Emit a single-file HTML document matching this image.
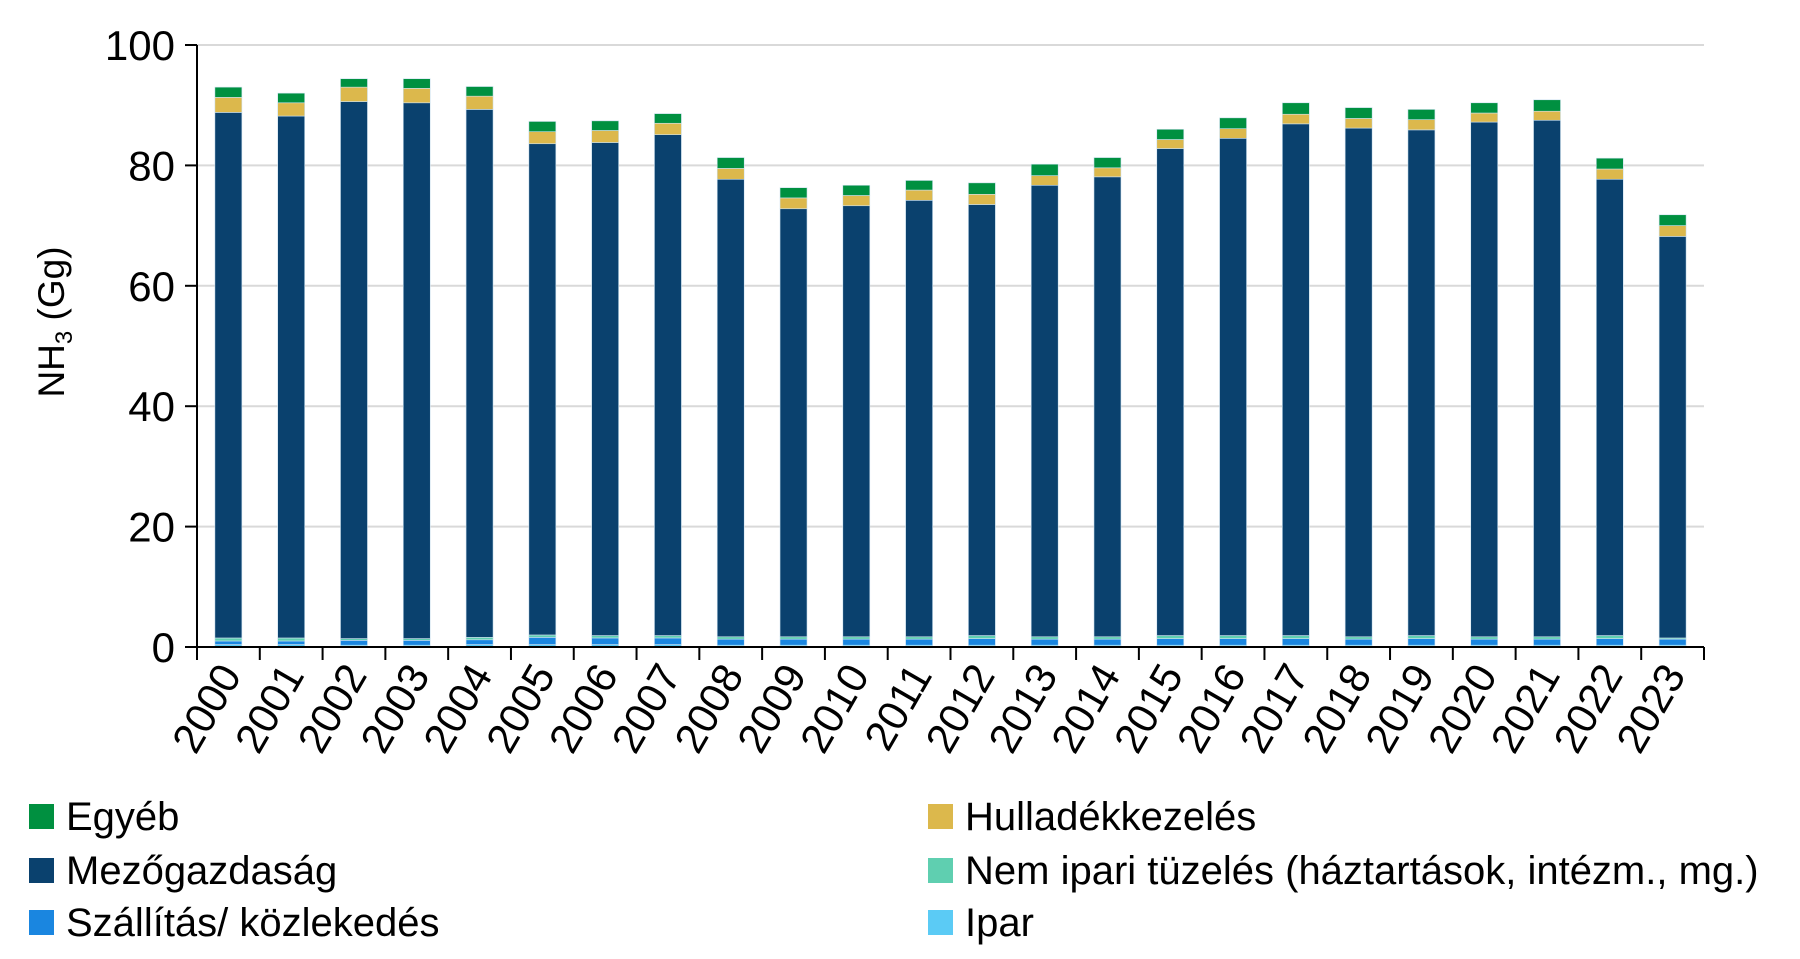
<!DOCTYPE html>
<html><head><meta charset="utf-8">
<style>
body{margin:0;background:#fff;width:1800px;height:954px;overflow:hidden;font-family:"Liberation Sans",sans-serif}
</style></head>
<body>
<svg id="chart" width="1800" height="954" xmlns="http://www.w3.org/2000/svg" font-family="Liberation Sans, sans-serif">
<g id="grid"></g>
<g id="bars"></g>
<g id="axes"></g>
<text transform="translate(64,322) rotate(-90)" text-anchor="middle" font-size="37" fill="#000">NH<tspan font-size="24" dy="8">3</tspan><tspan dy="-8"> (Gg)</tspan></text>
<g id="legend"></g>
</svg>
<script>
const years=["2000","2001","2002","2003","2004","2005","2006","2007","2008","2009","2010","2011","2012","2013","2014","2015","2016","2017","2018","2019","2020","2021","2022","2023"];
const ipar=[0.4,0.4,0.3,0.3,0.4,0.4,0.4,0.4,0.3,0.3,0.3,0.3,0.3,0.3,0.3,0.3,0.3,0.3,0.3,0.3,0.3,0.3,0.3,0.3];
const szallitas=[0.6,0.6,0.8,0.8,0.8,1.2,1.1,1.1,1.0,1.0,1.0,1.0,1.1,1.0,1.0,1.1,1.1,1.1,1.0,1.1,1.0,1.0,1.1,1.0];
const nemIpari=[0.5,0.5,0.3,0.3,0.4,0.4,0.4,0.4,0.4,0.4,0.4,0.4,0.5,0.4,0.4,0.5,0.5,0.5,0.4,0.5,0.4,0.4,0.5,0.2];
const mezogazdasag=[87.3,86.7,89.2,89.0,87.7,81.6,81.9,83.2,76.0,71.1,71.6,72.5,71.6,75.0,76.4,80.9,82.6,85.0,84.5,84.0,85.5,85.8,75.8,66.7];
const hulladek=[2.5,2.2,2.4,2.4,2.2,2.0,2.0,1.9,1.8,1.8,1.7,1.7,1.7,1.6,1.5,1.5,1.6,1.6,1.6,1.7,1.5,1.5,1.7,1.8];
const egyeb=[1.7,1.6,1.4,1.6,1.6,1.7,1.6,1.6,1.8,1.7,1.7,1.6,1.9,1.9,1.7,1.7,1.8,1.9,1.8,1.7,1.7,1.9,1.8,1.8];
const yTicks=[0,20,40,60,80,100];
const seriesNames=["Egyéb","Hulladékkezelés","Mezőgazdaság","Nem ipari tüzelés (háztartások, intézm., mg.)","Szállítás/ közlekedés","Ipar"];

const NS="http://www.w3.org/2000/svg";
const X0=197,X1=1704,Y0=647,Y1=45,YMAX=100;
const band=(X1-X0)/years.length, barW=27;
const y=v=>Y0-(v/YMAX)*(Y0-Y1);
const xc=i=>X0+band*(i+0.5);
function mk(tag,attrs,parent){const e=document.createElementNS(NS,tag);for(const k in attrs)e.setAttribute(k,attrs[k]);parent.appendChild(e);return e;}
const grid=document.getElementById('grid'),bars=document.getElementById('bars'),axes=document.getElementById('axes'),legend=document.getElementById('legend');
yTicks.forEach(t=>{
  if(t>0){const l=mk('line',{x1:X0,x2:X1,y1:y(t),y2:y(t),stroke:'#d9d9d9','stroke-width':2},grid);
  
  }
  const tk=mk('line',{x1:X0-12,x2:X0,y1:y(t),y2:y(t),stroke:'#000','stroke-width':2},axes);
  
  
  const tx=mk('text',{x:X0-22,y:y(t)+15,'text-anchor':'end','font-size':42,fill:'#000'},axes);
  tx.textContent=t;
  
  
});
const series=[[ipar,'#5bcbf5','ipar'],[szallitas,'#1a86e0','szallitas'],[nemIpari,'#5fcfb0','nem-ipari'],[mezogazdasag,'#0a416e','mezogazdasag'],[hulladek,'#dcb84c','hulladek'],[egyeb,'#009040','egyeb']];
years.forEach((yr,i)=>{
  let acc=0;
  series.forEach(([arr,col,nm])=>{
    const v=arr[i];
    const r=mk('rect',{x:xc(i)-barW/2,y:y(acc+v),width:barW,height:y(acc)-y(acc+v),fill:col,stroke:'#cfe3f0','stroke-width':0.6},bars);
    
    
    acc+=v;
  });
  const tk=mk('line',{x1:X0+band*i,x2:X0+band*i,y1:Y0,y2:Y0+13,stroke:'#000','stroke-width':2},axes);
  
  
  const tx=mk('text',{x:xc(i)+14,y:Y0+28,'text-anchor':'end','font-size':42,fill:'#000',transform:`rotate(-60 ${xc(i)+14} ${Y0+28})`},axes);
  tx.textContent=yr;
  
  
});
const tkEnd=mk('line',{x1:X1,x2:X1,y1:Y0,y2:Y0+13,stroke:'#000','stroke-width':2},axes);


const ya=mk('line',{x1:X0,x2:X0,y1:Y1,y2:Y0,stroke:'#000','stroke-width':2},axes);


const xa=mk('line',{x1:X0-12,x2:X1,y1:Y0,y2:Y0,stroke:'#000','stroke-width':2},axes);


const legCols=['#009040','#dcb84c','#0a416e','#5fcfb0','#1a86e0','#5bcbf5'];
seriesNames.forEach((n,k)=>{
  const col=k%2, row=Math.floor(k/2);
  const lx=col===0?29:928, ly=[816,870,922][row];
  const g=mk('g',{},legend);
  
  
  mk('rect',{x:lx,y:ly-12,width:25,height:25,fill:legCols[k]},g);
  const t=mk('text',{x:lx+37,y:ly+14,'font-size':40,fill:'#000'},g);
  t.textContent=n;
});
</script>
</body></html>
